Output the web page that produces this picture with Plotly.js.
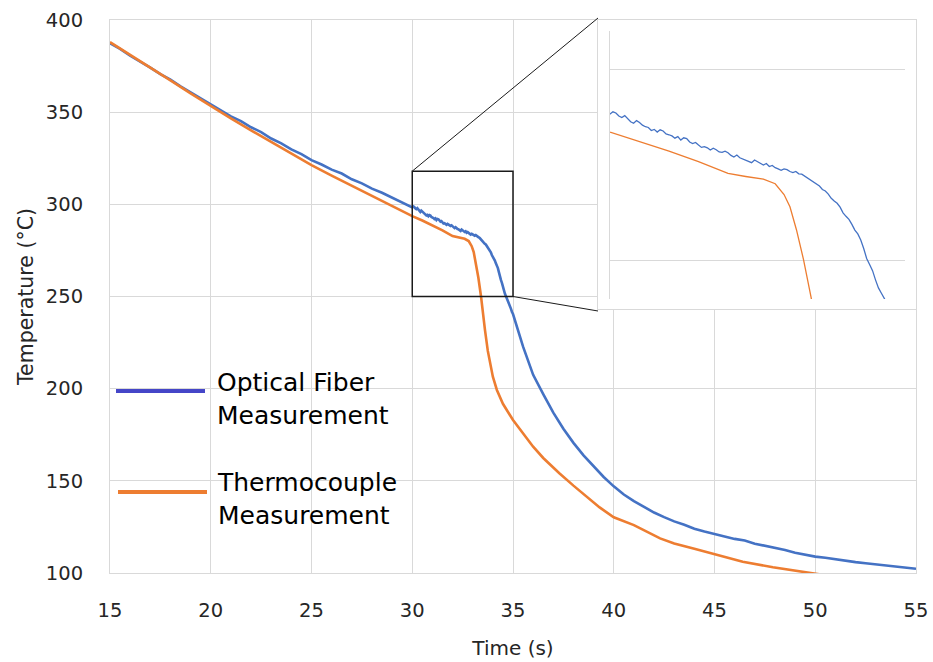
<!DOCTYPE html>
<html>
<head>
<meta charset="utf-8">
<script src="https://cdn.plot.ly/plotly-3.0.1.min.js"></script>
<style>
html,body{margin:0;padding:0;background:#fff;}
#chart{width:933px;height:662px;}
</style>
</head>
<body>
<div id="chart"></div>
<script>
// ---------------- data ----------------
const fiberTime = [
  15,15.5,16,16.5,17,17.5,18,18.5,19,19.5,
  20,20.5,21,21.5,22,22.5,23,23.5,24,24.5,
  25,25.5,26,26.5,27,27.5,28,28.5,29,29.5,
  30.00,30.05,30.10,30.15,30.20,30.25,30.30,30.35,30.40,30.45,
  30.50,30.55,30.60,30.65,30.70,30.75,30.80,30.85,30.90,30.95,
  31.00,31.05,31.10,31.15,31.20,31.25,31.30,31.35,31.40,31.45,
  31.50,31.55,31.60,31.65,31.70,31.75,31.80,31.85,31.90,31.95,
  32.00,32.05,32.10,32.15,32.20,32.25,32.30,32.35,32.40,32.45,
  32.50,32.55,32.60,32.65,32.70,32.75,32.80,32.85,32.90,32.95,
  33.00,33.05,33.10,33.15,33.20,33.25,33.30,33.35,33.40,33.45,
  33.50,33.55,33.60,33.65,33.70,33.75,33.80,33.85,33.90,33.95,
  34.00,34.05,34.10,34.15,34.20,34.25,34.30,34.35,34.40,34.45,
  34.50,34.55,34.60,34.65,34.70,34.75,34.80,34.85,34.90,34.95,
  35.0,35.5,36,36.5,37,37.5,38,38.5,39,39.5,
  40,40.5,41,41.5,42,42.5,43,43.5,44,44.5,
  45,45.5,46,46.5,47,47.5,48,48.5,49,49.5,
  50,50.5,51,51.5,52,52.5,53,53.5,54,54.5,55
];
const fiberTemp = [
  387.4,384.3,380.6,377.5,374.2,370.6,367.6,364.0,360.8,357.2,
  354.0,351.2,347.7,345.1,341.8,339.2,335.7,333.1,329.8,327.2,
  324.0,321.6,318.8,316.7,313.6,311.4,308.5,306.3,303.6,301.2,
  298.3,298.9,298.6,297.8,297.4,297.9,297.0,296.3,295.9,296.6,
  296.1,295.4,295.0,294.8,294.0,294.3,293.6,294.2,293.9,293.1,
  292.9,292.6,292.0,292.4,291.5,292.1,291.9,291.0,290.6,290.9,
  290.2,289.6,289.8,289.5,288.9,289.4,289.0,288.4,288.3,288.6,
  288.2,287.5,287.1,287.6,286.9,286.6,286.4,286.0,285.6,286.3,
  285.9,285.3,285.0,285.4,284.6,284.9,284.3,284.0,283.6,284.0,
  283.8,283.3,283.0,283.3,282.7,282.6,282.1,281.7,281.0,280.6,
  280.0,279.5,278.6,278.2,277.4,276.3,275.6,275.0,274.0,272.5,
  271.6,270.8,269.5,268.0,267.0,265.4,263.2,260.6,259.0,257.4,
  255.0,252.9,251.5,250.2,249.0,247.4,246.2,244.6,243.3,241.6,
  240.5,222.8,207.5,197.0,187.0,178.3,170.6,163.8,157.9,152.1,
  147.0,142.6,139.0,136.0,132.8,130.3,128.0,126.2,124.0,122.5,
  121.0,119.8,118.5,117.6,115.9,114.9,113.6,112.5,111.0,109.9,
  108.9,108.3,107.4,106.8,105.9,105.3,104.7,104.0,103.5,102.8,102.3
];
const tcTime = [
  15,16,17,18,19,20,21,22,23,24,25,26,27,28,29,30,30.5,31,31.5,32,
  32.3,32.6,32.8,32.95,33.05,33.16,33.28,33.41,33.5,33.61,33.75,33.86,34.0,34.2,34.5,
  35.0,35.5,36.0,36.5,37.3,38.0,38.7,39.3,40.0,41.0,42.3,43.0,44.0,45.0,46.4,47.9,49.0,49.75,50.5
];
const tcTemp = [
  388.0,381.2,374.2,367.2,360.2,353.2,346.6,340.1,333.7,327.4,321.3,315.6,310.0,304.5,299.0,293.6,291.2,288.6,285.9,282.8,
  282.0,281.3,280.1,277.3,274.1,268.1,260.3,250.3,241.0,231.8,220.5,213.8,206.5,199.3,191.8,
  183.0,175.5,168.5,162.4,154.1,147.4,141.3,135.6,130.2,126.0,118.8,116.0,113.2,110.3,106.1,103.1,101.2,100.0,98.8
];
const seriesNames = ['Optical Fiber<br>Measurement', 'Thermocouple<br>Measurement'];
const xTicks = [15,20,25,30,35,40,45,50,55];
const yTicks = [100,150,200,250,300,350,400];
const insetXRange = [30, 35];
const insetYRange = [250, 320];
const insetYTicks = [260, 310];
const zoomBoxX = [30, 35];
const zoomBoxY = [250, 318];

// ---------------- geometry ----------------
const W = 933, H = 662, L = 110, R = 17, T = 20, B = 89;
const PW = W - L - R, PH = H - T - B;
const px = v => (v - L) / PW;          // pixel x -> paper
const py = v => (H - B - v) / PH;      // pixel y -> paper
const xMin = 15, xMax = 55, yMin = 100, yMax = 400;
const dX = v => (v - xMin) / (xMax - xMin);
const dY = v => (v - yMin) / (yMax - yMin);

const FONT = 'DejaVu Sans';
const BLUE = '#4472c4', ORANGE = '#ed7d31', GRID = '#d9d9d9';

const traces = [
  {x: fiberTime, y: fiberTemp, type: 'scatter', mode: 'lines', name: seriesNames[0],
   line: {color: BLUE, width: 2.6}, xaxis: 'x', yaxis: 'y', hoverinfo: 'skip'},
  {x: tcTime, y: tcTemp, type: 'scatter', mode: 'lines', name: seriesNames[1],
   line: {color: ORANGE, width: 2.6}, xaxis: 'x', yaxis: 'y', hoverinfo: 'skip'},
  {x: [], y: [], type: 'scatter', mode: 'lines', xaxis: 'x2', yaxis: 'y2', hoverinfo: 'skip'},
  {x: fiberTime, y: fiberTemp, type: 'scatter', mode: 'lines', name: seriesNames[0],
   line: {color: BLUE, width: 1.3}, xaxis: 'x3', yaxis: 'y3', hoverinfo: 'skip'},
  {x: tcTime, y: tcTemp, type: 'scatter', mode: 'lines', name: seriesNames[1],
   line: {color: ORANGE, width: 1.3}, xaxis: 'x3', yaxis: 'y3', hoverinfo: 'skip'}
];

const tickFont = {family: FONT, size: 19.5, color: '#262626'};

const layout = {
  width: W, height: H,
  margin: {l: L, r: R, t: T, b: B, pad: 0},
  paper_bgcolor: '#ffffff', plot_bgcolor: '#ffffff',
  showlegend: false,
  xaxis: {
    domain: [0, 1], anchor: 'y', range: [xMin, xMax], tickvals: xTicks, ticktext: xTicks.map(String),
    showgrid: true, gridcolor: GRID, gridwidth: 1, zeroline: false,
    showline: true, mirror: true, linecolor: GRID, linewidth: 1,
    ticks: 'outside', ticklen: 20, tickcolor: 'rgba(0,0,0,0)', tickfont: tickFont,
    title: {text: 'Time (s)', font: {family: FONT, size: 20, color: '#262626'}, standoff: 19},
    fixedrange: true
  },
  yaxis: {
    domain: [0, 1], anchor: 'x', range: [yMin, yMax], tickvals: yTicks, ticktext: yTicks.map(String),
    showgrid: true, gridcolor: GRID, gridwidth: 1, zeroline: false,
    showline: true, mirror: true, linecolor: GRID, linewidth: 1,
    ticks: 'outside', ticklen: 22, tickcolor: 'rgba(0,0,0,0)', tickfont: tickFont,
    title: {text: 'Temperature (°C)', font: {family: FONT, size: 20.5, color: '#262626'}, standoff: 6},
    fixedrange: true
  },
  // white inset frame
  xaxis2: {domain: [px(598), 1], anchor: 'y2', range: [0, 1], showgrid: false, zeroline: false,
    showticklabels: false, ticks: '', showline: true, mirror: true, linecolor: GRID, linewidth: 1, fixedrange: true},
  yaxis2: {domain: [py(309), 1], anchor: 'x2', range: [0, 1], showgrid: false, zeroline: false,
    showticklabels: false, ticks: '', showline: true, mirror: true, linecolor: GRID, linewidth: 1, fixedrange: true},
  // zoomed inset
  xaxis3: {domain: [px(610), px(905)], anchor: 'y3', range: insetXRange, showgrid: false, zeroline: false,
    showticklabels: false, ticks: '', showline: false, fixedrange: true},
  yaxis3: {domain: [py(299), py(31)], anchor: 'x3', range: insetYRange, tickvals: insetYTicks,
    showgrid: true, gridcolor: GRID, gridwidth: 1.2, zeroline: false, showticklabels: false, ticks: '',
    showline: true, linecolor: GRID, linewidth: 1.5, fixedrange: true},
  shapes: [
    {type: 'rect', xref: 'x', yref: 'y', x0: zoomBoxX[0], x1: zoomBoxX[1], y0: zoomBoxY[0], y1: zoomBoxY[1],
     line: {color: '#1a1a1a', width: 1.5}, layer: 'above'},
    {type: 'line', xref: 'paper', yref: 'paper', x0: dX(zoomBoxX[0]), y0: dY(zoomBoxY[1]), x1: px(598), y1: py(18),
     line: {color: '#1a1a1a', width: 1}, layer: 'above'},
    {type: 'line', xref: 'paper', yref: 'paper', x0: dX(zoomBoxX[1]), y0: dY(zoomBoxY[0]), x1: px(598), y1: py(311),
     line: {color: '#1a1a1a', width: 1}, layer: 'above'},
    // legend samples
    {type: 'line', xref: 'paper', yref: 'paper', x0: px(116), x1: px(205), y0: py(391), y1: py(391),
     line: {color: '#4546c8', width: 4}, layer: 'above'},
    {type: 'line', xref: 'paper', yref: 'paper', x0: px(118), x1: px(207), y0: py(492), y1: py(492),
     line: {color: ORANGE, width: 4}, layer: 'above'}
  ],
  annotations: [
    {xref: 'paper', yref: 'paper', x: px(215), y: py(399), xanchor: 'left', yanchor: 'middle', align: 'left',
     showarrow: false, text: seriesNames[0], font: {family: FONT, size: 25, color: '#000000'}},
    {xref: 'paper', yref: 'paper', x: px(215), y: py(498.5), xanchor: 'left', yanchor: 'middle', align: 'left',
     showarrow: false, text: seriesNames[1], font: {family: FONT, size: 25, color: '#000000'}}
  ]
};

Plotly.newPlot('chart', traces, layout, {staticPlot: true, displayModeBar: false});
</script>
</body>
</html>
